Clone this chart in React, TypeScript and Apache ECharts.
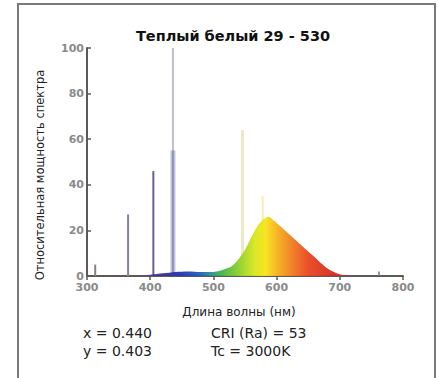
import React, { useEffect, useRef } from "react";
import * as echarts from "echarts";

const titleText = "Теплый белый 29 - 530";
const yAxisName = "Относительная мощность спектра";
const xAxisName = "Длина волны (нм)";
const infoLeft = ["x = 0.440", "y = 0.403"];
const infoRight = ["CRI (Ra) = 53", "Tc = 3000K"];

// continuous phosphor band
const bandWavelengths = [380, 390, 400, 420, 440, 460, 480, 500, 510, 520, 530, 540, 550, 560, 570, 580, 587, 595, 605, 615, 625, 635, 645, 655, 665, 675, 685, 695, 705, 720];
const bandValues = [0, 0.3, 0.6, 1.2, 1.8, 2.0, 1.8, 1.8, 2.3, 3.2, 4.5, 7.5, 11.5, 17, 22, 25, 26, 24.5, 22, 19.5, 17, 14.5, 12, 9.5, 7, 4.5, 2.5, 1.2, 0.4, 0];

// mercury lines
const spikeWavelengths = [313, 365, 405, 436, 436, 436, 546, 578, 762];
const spikeHeights = [5, 27, 46, 100, 55, 55, 64, 35, 2];
const spikeColors = ["#8a8080", "#8c7c9c", "#6c5c94", "#c4bcd0", "#bcc4e0", "#8a84b0", "#ebe9c6", "#f2ecb8", "#777777"];
const spikeWidths = [2, 2, 2, 2, 5, 1.5, 3, 2, 1.5];

const spectrumStops: [number, string][] = [
  [380, "#6a4a9a"],
  [420, "#3a2f9a"],
  [445, "#2233aa"],
  [475, "#1e55c0"],
  [495, "#2a8a9a"],
  [510, "#38b050"],
  [540, "#8ccf2a"],
  [565, "#d6e61c"],
  [582, "#f8e41a"],
  [600, "#f5b41a"],
  [625, "#f07a1e"],
  [650, "#e8461e"],
  [690, "#d42a22"],
  [720, "#c83232"],
];

export default function App() {
  const ref = useRef<HTMLDivElement>(null);
  useEffect(() => {
    if (!ref.current) return;
    const chart = echarts.init(ref.current, undefined, { renderer: "svg" });
    const wMin = bandWavelengths[0];
    const wMax = bandWavelengths[bandWavelengths.length - 1];
    const grad = new echarts.graphic.LinearGradient(
      0, 0, 1, 0,
      spectrumStops.map(([w, c]) => ({ offset: (w - wMin) / (wMax - wMin), color: c }))
    );
    const axisColor = "#5e5858";
    const spikeSeries = spikeWavelengths.map((w, i) => ({
      type: "line",
      data: [[w, 0], [w, spikeHeights[i]]],
      symbol: "none",
      lineStyle: { color: spikeColors[i], width: spikeWidths[i] },
      z: 2,
    }));
    chart.setOption({
      animation: false,
      grid: { left: 87, right: 35, top: 48, bottom: 102 },
      xAxis: {
        type: "value",
        min: 300,
        max: 800,
        interval: 100,
        axisLine: { lineStyle: { color: axisColor, width: 2 } },
        axisTick: { show: true, length: 4, lineStyle: { color: axisColor, width: 1.5 } },
        axisLabel: { color: "#8a8a8a", fontSize: 11, fontWeight: "bold", fontFamily: "DejaVu Sans", margin: 6 },
        splitLine: { show: false },
      },
      yAxis: {
        type: "value",
        min: 0,
        max: 100,
        interval: 20,
        axisLine: { show: true, lineStyle: { color: axisColor, width: 2 } },
        axisTick: { show: true, inside: true, length: 4, lineStyle: { color: axisColor, width: 1.5 } },
        axisLabel: { color: "#8a8a8a", fontSize: 11, fontWeight: "bold", fontFamily: "DejaVu Sans", margin: 3 },
        splitLine: { show: false },
      },
      series: [
        ...spikeSeries,
        {
          type: "line",
          data: bandWavelengths.map((w, i) => [w, bandValues[i]]),
          symbol: "none",
          smooth: 0.3,
          lineStyle: { width: 0 },
          areaStyle: { color: grad, opacity: 0.95 },
          z: 3,
        },
      ],
      graphic: [
        {
          type: "rect",
          shape: { x: 18, y: 4, width: 417, height: 420 },
          style: { fill: "none", stroke: "#7a7a7a", lineWidth: 2 },
          silent: true,
        },
        {
          type: "text",
          x: 233,
          y: 36,
          style: { text: titleText, font: "bold 14.5px 'DejaVu Sans'", fill: "#111", textAlign: "center", textVerticalAlign: "middle" },
        },
        {
          type: "text",
          x: 40,
          y: 175,
          rotation: Math.PI / 2,
          style: { text: yAxisName, font: "11.5px 'DejaVu Sans'", fill: "#222", textAlign: "center", textVerticalAlign: "middle" },
        },
        {
          type: "text",
          x: 239,
          y: 312,
          style: { text: xAxisName, font: "12px 'DejaVu Sans'", fill: "#222", textAlign: "center", textVerticalAlign: "middle" },
        },
        ...infoLeft.map((t, i) => ({
          type: "text",
          x: 83,
          y: 333 + i * 18,
          style: { text: t, font: "14px 'DejaVu Sans'", fill: "#222", textAlign: "left", textVerticalAlign: "middle" },
        })),
        ...infoRight.map((t, i) => ({
          type: "text",
          x: 211,
          y: 333 + i * 18,
          style: { text: t, font: "14px 'DejaVu Sans'", fill: "#222", textAlign: "left", textVerticalAlign: "middle" },
        })),
      ],
    });
    return () => chart.dispose();
  }, []);
  return <div ref={ref} style={{ position: "absolute", left: 0, top: 0, width: 438, height: 378, background: "#fff" }} />;
}
